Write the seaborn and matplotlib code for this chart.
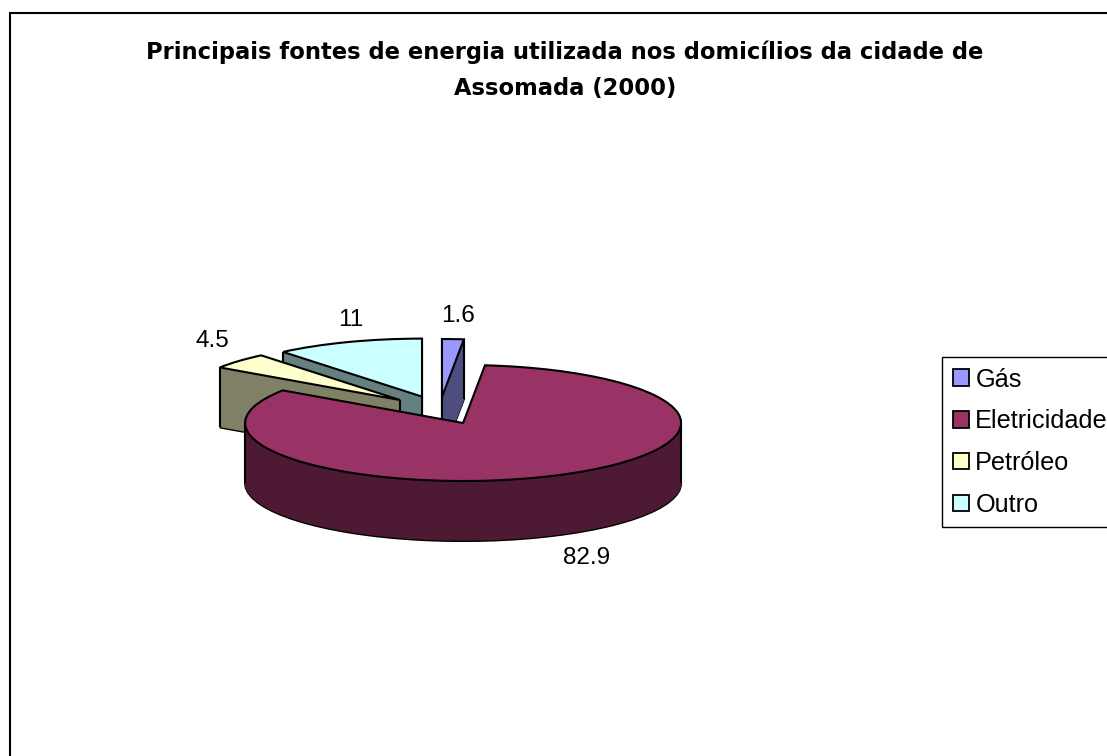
import numpy as np
import pandas as pd
import seaborn as sns
import matplotlib
matplotlib.use("Agg")
import matplotlib.pyplot as plt
from matplotlib.patches import Patch

categories = ["Gás", "Eletricidade", "Petróleo", "Outro"]
values = [1.6, 82.9, 4.5, 11]
title = "Principais fontes de energia utilizada nos domicílios da cidade de\nAssomada (2000)"

W, H = 1107, 756
sns.set_theme(style="white")
plt.rcParams["font.family"] = ["Liberation Sans", "DejaVu Sans"]

top_colors = sns.color_palette(["#9999FF", "#993366", "#FFFFCC", "#CCFFFF"])
side_colors = sns.color_palette(["#4D4D80", "#4D1933", "#808066", "#668080"])
explode = [0.217, 0.255, 0.245, 0.238]
paint_rank = [1, 3, 2, 0]  # back to front

# pixel geometry of the squashed pie
CX, CY, RX, RY, DEPTH = 439.6, 409.6, 218.0, 58.0, 60

fig = plt.figure(figsize=(W / 100, H / 100), dpi=100, facecolor="white")
ax = fig.add_axes([0, 0, 1, 1])

df = pd.DataFrame({"categoria": categories, "valor": values})


def layer(offset, colors, edge=None, lw=1.0, z_top=False):
    wedges, _ = ax.pie(df["valor"], explode=explode, colors=colors, startangle=90,
                       counterclock=False, center=(0, -offset / RY), radius=1.0,
                       wedgeprops=dict(linewidth=lw), normalize=True)
    for i, w in enumerate(wedges):
        w.set_edgecolor(edge if edge is not None else colors[i])
        w.set_zorder(paint_rank[i] * 1000 + (900 if z_top else (DEPTH - offset)))
        w.set_joinstyle("miter")
    return wedges


# extruded wall, bottom layer outlined
for off in range(DEPTH, 0, -1):
    if off == DEPTH:
        layer(off, side_colors, edge="black", lw=1.5)
    else:
        layer(off, side_colors)

# top faces
tops = layer(0, top_colors, edge="black", lw=1.5, z_top=True)

# vertical silhouette lines: only at the left-most and right-most points of each slice
for i, w in enumerate(tops):
    cx, cy = w.center
    angs = [w.theta1, w.theta2]
    for a in (0, 180):
        for k in range(-1, 2):
            if w.theta1 < a + 360 * k < w.theta2:
                angs.append(a + 360 * k)
    pts = [(cx + np.cos(np.radians(a)), cy + np.sin(np.radians(a))) for a in angs]
    pts.append((cx, cy))
    xs = [p[0] for p in pts]
    lo, hi = min(xs), max(xs)
    for x, y in pts:
        if abs(x - lo) < 1e-6 or abs(x - hi) < 1e-6:
            ax.plot([x, x], [y, y - DEPTH / RY], color="black", lw=1.5,
                    zorder=paint_rank[i] * 1000 + 800, solid_capstyle="butt")

ax.set_aspect("auto")
ax.set_xlim(-CX / RX, (W - CX) / RX)
ax.set_ylim((CY - H) / RY, CY / RY)
ax.set_axis_off()


def px(x, y):
    return x / W, 1 - y / H


# value labels
label_pos = [(458, 316), (587, 558), (212, 341), (351, 320)]
for v, (x, y) in zip(values, label_pos):
    fig.text(*px(x, y), f"{v:g}", ha="center", va="center", fontsize=17.5, color="black", zorder=10)

# title
fig.text(*px(565, 70), title, ha="center", va="center", fontsize=16.25, fontweight="bold",
         family=["DejaVu Sans"], linespacing=1.7, color="black", zorder=10)

# chart border (open at the right and bottom)
fig.add_artist(plt.Line2D([10 / W, 10 / W], [0, 1 - 13 / H], color="black", lw=1.5))
fig.add_artist(plt.Line2D([10 / W, 1], [1 - 13 / H, 1 - 13 / H], color="black", lw=1.5))

# legend
handles = [Patch(facecolor=c, edgecolor="black", linewidth=1.3) for c in top_colors]
leg = fig.legend(handles, categories, loc="upper left", bbox_to_anchor=px(942, 357),
                 bbox_transform=fig.transFigure, fontsize=18.2, frameon=True, fancybox=False,
                 edgecolor="black", framealpha=1, borderaxespad=0, borderpad=0.42,
                 handlelength=0.63, handleheight=0.63, handletextpad=0.27, labelspacing=0.70,
                 labelcolor="black")
leg.get_frame().set_linewidth(1.0)

fig.savefig("out.png", dpi=100, facecolor="white")
